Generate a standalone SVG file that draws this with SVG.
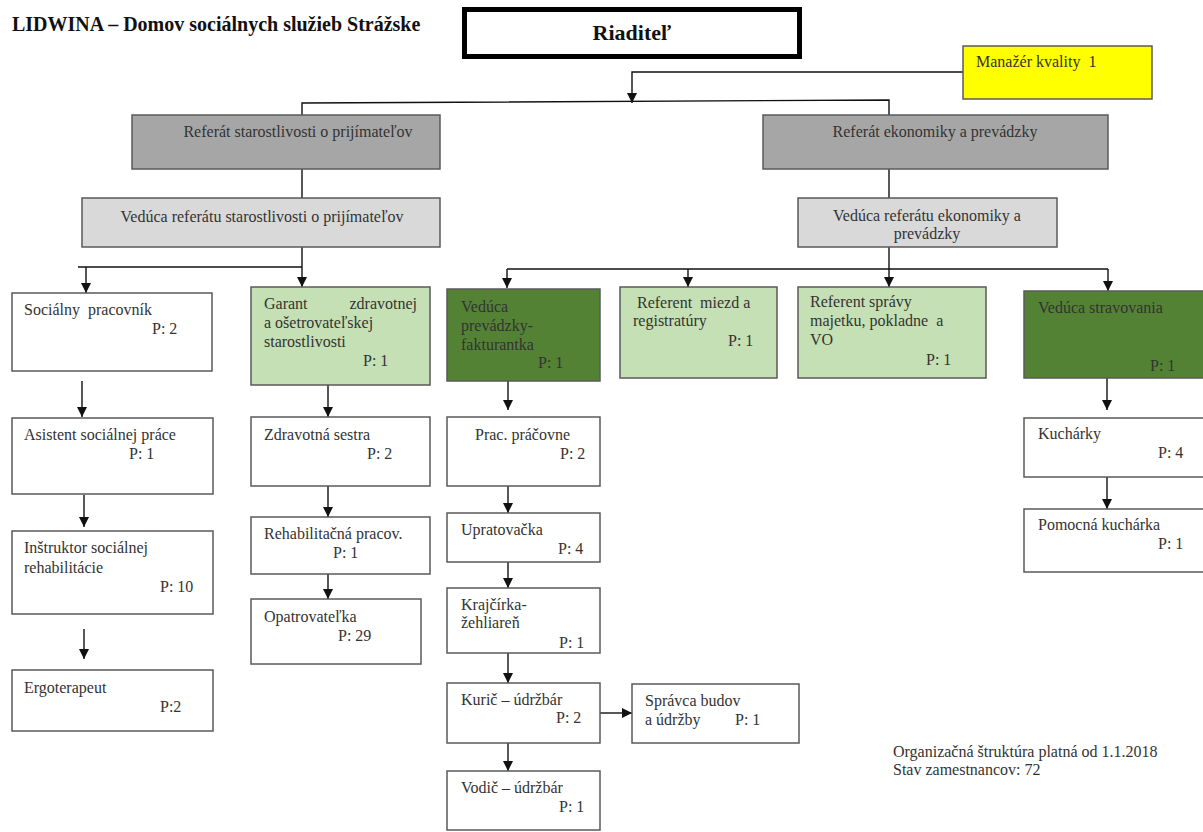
<svg xmlns="http://www.w3.org/2000/svg" width="1203" height="832" viewBox="0 0 1203 832" font-family="'Liberation Serif', 'DejaVu Serif', serif">
<style>
  text { font-family: "Liberation Serif", "DejaVu Serif", serif; font-size: 16px; fill: #333; white-space: pre; }
  .title { font-size: 20px; font-weight: bold; fill: #111; }
  .boss { font-size: 22px; font-weight: bold; fill: #111; }
  .box { stroke: #5a5a5a; stroke-width: 1.5; fill: #fff; }
  .g1 { fill: #a6a6a6; }
  .g2 { fill: #d9d9d9; }
  .lg { fill: #c5e0b4; }
  .dg { fill: #548235; }
  .yl { fill: #ffff00; }
  .c { stroke: #111; stroke-width: 1.4; fill: none; }
  .a { stroke: #111; stroke-width: 1.4; fill: none; marker-end: url(#ah); }
</style>
<defs>
  <marker id="ah" markerUnits="userSpaceOnUse" markerWidth="10" markerHeight="10" refX="10" refY="5" orient="auto">
    <path d="M0,0 L10,5 L0,10 z" fill="#111"/>
  </marker>
</defs>
<rect width="1203" height="832" fill="#fff"/>
<text class="title" x="12" y="31">LIDWINA – Domov sociálnych služieb Strážske</text>

<g id="connectors">
  <polyline class="a" points="963,72 632,72 632,103"/>
  <polyline class="c" points="302,115 302,103 889,100 889,115"/>
  <line class="c" x1="302" y1="169" x2="302" y2="198"/>
  <line class="c" x1="889" y1="169" x2="889" y2="198"/>
  <line class="c" x1="302" y1="247" x2="302" y2="267"/>
  <line class="c" x1="78" y1="267" x2="302" y2="267"/>
  <line class="a" x1="86" y1="267" x2="86" y2="293"/>
  <line class="a" x1="302" y1="267" x2="302" y2="287"/>
  <line class="c" x1="889" y1="247" x2="889" y2="269"/>
  <line class="c" x1="507" y1="269" x2="1108" y2="269"/>
  <line class="a" x1="507" y1="269" x2="507" y2="288"/>
  <line class="a" x1="688" y1="269" x2="688" y2="287"/>
  <line class="a" x1="889" y1="269" x2="889" y2="287"/>
  <line class="a" x1="1108" y1="269" x2="1108" y2="291"/>
  <line class="a" x1="82" y1="381" x2="82" y2="417"/>
  <line class="a" x1="84" y1="495" x2="84" y2="527"/>
  <line class="a" x1="84" y1="629" x2="84" y2="659"/>
  <line class="a" x1="328" y1="385" x2="328" y2="417"/>
  <line class="a" x1="328" y1="486" x2="328" y2="517"/>
  <line class="a" x1="328" y1="574" x2="328" y2="599"/>
  <line class="a" x1="508" y1="381" x2="508" y2="410"/>
  <line class="a" x1="508" y1="486" x2="508" y2="513"/>
  <line class="a" x1="508" y1="562" x2="508" y2="588"/>
  <line class="a" x1="508" y1="653" x2="508" y2="683"/>
  <line class="a" x1="508" y1="743" x2="508" y2="771"/>
  <line class="a" x1="600" y1="713" x2="632" y2="713"/>
  <line class="a" x1="1107" y1="378" x2="1107" y2="410"/>
  <line class="a" x1="1107" y1="477" x2="1107" y2="509"/>
</g>

<g id="riaditel">
  <rect x="464.5" y="9.5" width="335" height="47" fill="#fff" stroke="#000" stroke-width="5"/>
  <text class="boss" x="632" y="40" text-anchor="middle">Riaditeľ</text>
</g>
<g id="manazer">
  <rect class="box yl" x="963" y="46" width="189" height="53"/>
  <text x="976" y="67" xml:space="preserve">Manažér kvality  1</text>
</g>
<g id="ref-starostlivosti">
  <rect class="box g1" x="132" y="115" width="308" height="54"/>
  <text x="298" y="137" text-anchor="middle">Referát starostlivosti o prijímateľov</text>
</g>
<g id="ref-ekonomiky">
  <rect class="box g1" x="763" y="115" width="345" height="54"/>
  <text x="935" y="137" text-anchor="middle">Referát ekonomiky a prevádzky</text>
</g>
<g id="ved-starostlivosti">
  <rect class="box g2" x="82" y="198" width="358" height="49"/>
  <text x="262" y="222" text-anchor="middle">Vedúca referátu starostlivosti o prijímateľov</text>
</g>
<g id="ved-ekonomiky">
  <rect class="box g2" x="798" y="198" width="259" height="49"/>
  <text x="927" y="221" text-anchor="middle">Vedúca referátu ekonomiky a</text>
  <text x="927" y="239" text-anchor="middle">prevádzky</text>
</g>

<g id="socialny">
  <rect class="box" x="12" y="293" width="200" height="78"/>
  <text x="24" y="315" xml:space="preserve">Sociálny  pracovník</text>
  <text x="152" y="334">P: 2</text>
</g>
<g id="asistent">
  <rect class="box" x="12" y="418" width="201" height="76"/>
  <text x="24" y="440">Asistent sociálnej práce</text>
  <text x="129" y="459">P: 1</text>
</g>
<g id="instruktor">
  <rect class="box" x="12" y="531" width="201" height="83"/>
  <text x="24" y="553">Inštruktor sociálnej</text>
  <text x="24" y="573">rehabilitácie</text>
  <text x="160" y="592">P: 10</text>
</g>
<g id="ergoterapeut">
  <rect class="box" x="12" y="670" width="201" height="61"/>
  <text x="24" y="693">Ergoterapeut</text>
  <text x="160" y="712">P:2</text>
</g>

<g id="garant">
  <rect class="box lg" x="251" y="287" width="179" height="98"/>
  <text x="264" y="309">Garant</text>
  <text x="417" y="309" text-anchor="end">zdravotnej</text>
  <text x="264" y="328">a ošetrovateľskej</text>
  <text x="264" y="347">starostlivosti</text>
  <text x="363" y="366">P: 1</text>
</g>
<g id="zdravotna">
  <rect class="box" x="251" y="417" width="179" height="69"/>
  <text x="264" y="440">Zdravotná sestra</text>
  <text x="367" y="459">P: 2</text>
</g>
<g id="rehabilitacna">
  <rect class="box" x="251" y="517" width="179" height="57"/>
  <text x="264" y="539">Rehabilitačná pracov.</text>
  <text x="333" y="558">P: 1</text>
</g>
<g id="opatrovatelka">
  <rect class="box" x="251" y="599" width="170" height="65"/>
  <text x="264" y="622">Opatrovateľka</text>
  <text x="338" y="641">P: 29</text>
</g>

<g id="ved-prevadzky">
  <rect class="box dg" x="447" y="289" width="153" height="92"/>
  <text x="461" y="312">Vedúca</text>
  <text x="461" y="331">prevádzky-</text>
  <text x="461" y="350">fakturantka</text>
  <text x="538" y="368">P: 1</text>
</g>
<g id="pracovne">
  <rect class="box" x="447" y="417" width="153" height="69"/>
  <text x="475" y="440">Prac. práčovne</text>
  <text x="560" y="459">P: 2</text>
</g>
<g id="upratovacka">
  <rect class="box" x="447" y="513" width="153" height="49"/>
  <text x="461" y="535">Upratovačka</text>
  <text x="558" y="554">P: 4</text>
</g>
<g id="krajcirka">
  <rect class="box" x="447" y="588" width="153" height="65"/>
  <text x="461" y="610">Krajčírka-</text>
  <text x="461" y="628">žehliareň</text>
  <text x="559" y="648">P: 1</text>
</g>
<g id="kuric">
  <rect class="box" x="447" y="683" width="153" height="60"/>
  <text x="461" y="705">Kurič – údržbár</text>
  <text x="556" y="723">P: 2</text>
</g>
<g id="spravca">
  <rect class="box" x="632" y="684" width="167" height="59"/>
  <text x="645" y="706">Správca budov</text>
  <text x="645" y="725">a údržby</text>
  <text x="735" y="725">P: 1</text>
</g>
<g id="vodic">
  <rect class="box" x="447" y="771" width="153" height="59"/>
  <text x="461" y="793">Vodič – údržbár</text>
  <text x="559" y="812">P: 1</text>
</g>

<g id="ref-miezd">
  <rect class="box lg" x="620" y="287" width="157" height="91"/>
  <text x="637" y="308" xml:space="preserve">Referent  miezd a</text>
  <text x="633" y="326">registratúry</text>
  <text x="728" y="346">P: 1</text>
</g>
<g id="ref-spravy">
  <rect class="box lg" x="798" y="287" width="188" height="91"/>
  <text x="810" y="307">Referent správy</text>
  <text x="810" y="326" xml:space="preserve">majetku, pokladne  a</text>
  <text x="810" y="345">VO</text>
  <text x="926" y="365">P: 1</text>
</g>
<g id="ved-stravovania">
  <rect class="box dg" x="1024" y="291" width="182" height="87"/>
  <text x="1038" y="313">Vedúca stravovania</text>
  <text x="1150" y="371">P: 1</text>
</g>
<g id="kucharky">
  <rect class="box" x="1024" y="418" width="182" height="59"/>
  <text x="1038" y="439">Kuchárky</text>
  <text x="1158" y="458">P: 4</text>
</g>
<g id="pomocna">
  <rect class="box" x="1024" y="509" width="182" height="63"/>
  <text x="1038" y="530">Pomocná kuchárka</text>
  <text x="1158" y="549">P: 1</text>
</g>

<g id="footer">
  <text x="893" y="757" font-size="15">Organizačná štruktúra platná od 1.1.2018</text>
  <text x="893" y="775" font-size="15">Stav zamestnancov: 72</text>
</g>
</svg>
